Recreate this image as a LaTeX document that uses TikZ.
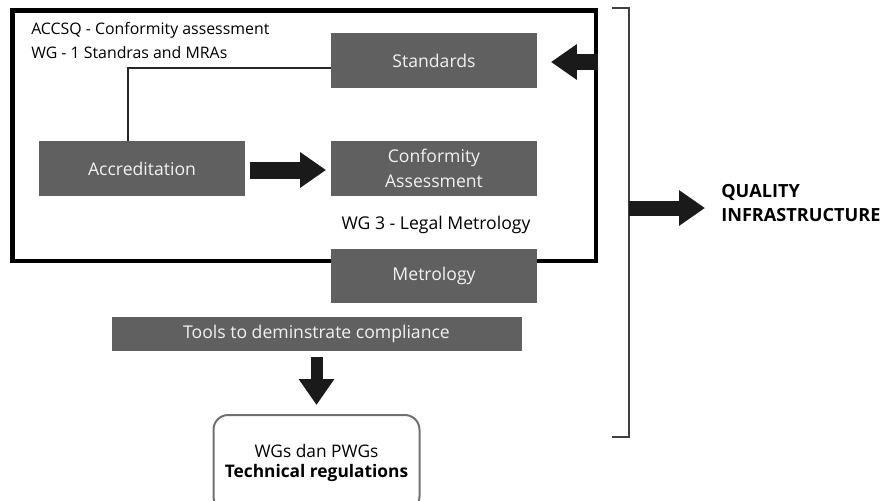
\documentclass[tikz,border=0pt]{standalone}
\usepackage{fontspec}
\setmainfont{Open Sans}
\usetikzlibrary{arrows.meta,positioning}
\definecolor{boxgray}{HTML}{606060}
\definecolor{tipblack}{HTML}{1A1A1A}
\definecolor{edgegray}{HTML}{707070}
\tikzstyle{block} = [rectangle, fill=boxgray, text=white!95!black, inner sep=0pt,
minimum width=154pt, minimum height=41pt, align=center, font=\fontsize{13.2}{18.5}\selectfont]
\tikzstyle{frame} = [rectangle, draw=black, line width=3.4pt, inner sep=0pt,
minimum width=437.6pt, minimum height=187.9pt]
\tikzstyle{fat} = [draw=tipblack, -{Triangle[length=19.5pt,width=25.5pt]}]
\tikzstyle{link} = [draw=black!85, line width=0.8pt]
\tikzstyle{label} = [inner sep=0pt, font=\fontsize{13.2}{18.5}\selectfont]

\begin{document}
\begin{tikzpicture}[x=0.75pt, y=-0.75pt]
\useasboundingbox (0,0) rectangle (889,500);
% Place nodes
\node [frame] (asean) at (304.25,135.75) {};
\node [label, anchor=north west, align=left, font=\fontsize{11.9}{18}\selectfont] (head) at (31,22.5)
  {ACCSQ - Conformity assessment\\WG - 1 Standras and MRAs};
\node [block] (std) at (434,60.5) {Standards};
\node [block] (accr) at (142,168.5) {Accreditation};
\node [block] (conf) at (434,168.5) {Conformity\\Assessment};
\node [label] (wg3) at (436,225) {WG 3 - Legal Metrology};
\node [block] (metro) at (434,276) {Metrology};
\node [block, minimum width=307.5pt, minimum height=25.5pt] (tools) at (316.5,334) {Tools to deminstrate compliance};
\node [rectangle, draw=edgegray, line width=1.5pt, rounded corners=11pt, minimum width=154.5pt,
  minimum height=72pt, align=center, font=\fontsize{13}{15.5}\selectfont] (techreg) at (316.5,463)
  {WGs dan PWGs\\\textbf{Technical regulations}};
\node [label, anchor=west, align=left, font=\bfseries\fontsize{13.6}{18}\selectfont] (qi) at (721,203)
  {QUALITY\\INFRASTRUCTURE};
\coordinate (lk) at (128,68);
\coordinate (brtop) at (612,8);
\coordinate (brbot) at (612,437);
\coordinate (brmid) at (629,208);
% Draw edges
\draw [draw=black!75, line width=0.8pt] (brtop) -| (brbot -| brmid) -- (brbot);
\path [link] (std.west |- lk) -| (accr.north -| lk);
\path [fat, line width=12.75pt, shorten <=3.75pt, shorten >=3.75pt] (accr.east |- 0,170) -- (conf.west |- 0,170);
\path [fat, line width=12pt, shorten >=10.5pt] (asean.east |- 0,62) -- (std.east |- 0,62);
\path [fat, line width=11.25pt, shorten >=12pt] (brmid) -- (qi.west |- brmid);
\path [fat, line width=9pt, shorten <=4.5pt, shorten >=6.75pt] (tools.south) -- (techreg.north);
\end{tikzpicture}
\end{document}
